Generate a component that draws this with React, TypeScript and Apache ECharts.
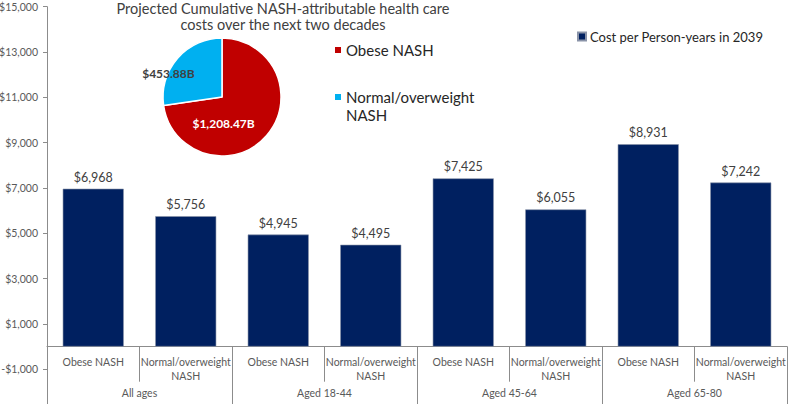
import React, { useEffect, useRef } from "react";
import * as echarts from "echarts";

const categories = [
  "Obese NASH",
  "Normal/overweight\nNASH",
  "Obese NASH",
  "Normal/overweight\nNASH",
  "Obese NASH",
  "Normal/overweight\nNASH",
  "Obese NASH",
  "Normal/overweight\nNASH",
];
const groups = ["All ages", "Aged 18-44", "Aged 45-64", "Aged 65-80"];
const costValues = [6968, 5756, 4945, 4495, 7425, 6055, 8931, 7242];
const barSeriesName = "Cost per Person-years in 2039";
const yTicks = [-1000, 1000, 3000, 5000, 7000, 9000, 11000, 13000, 15000];

const pieTitle = "Projected Cumulative NASH-attributable health care\ncosts over the next two decades";
const pieNames = ["Obese NASH", "Normal/overweight\nNASH"];
const pieValues = [1208.47, 453.88];
const pieLabels = ["$1,208.47B", "$453.88B"];

const FONT = "Lato, 'Noto Sans', sans-serif";

function fmtMoney(v: number): string {
  const s = "$" + Math.abs(v).toLocaleString("en-US");
  return v < 0 ? "-" + s : s;
}

export default function App() {
  const ref = useRef<HTMLDivElement>(null);
  useEffect(() => {
    if (!ref.current) return;
    document.body.style.margin = "0";
    const chart = echarts.init(ref.current, undefined, { renderer: "svg" });
    const zeroOffset = -22.6;
    const option: any = {
      animation: false,
      backgroundColor: "#ffffff",
      textStyle: { fontFamily: FONT },
      title: {
        text: pieTitle,
        left: 283,
        top: 0,
        textAlign: "center",
        padding: 0,
        textStyle: {
          fontFamily: FONT,
          fontSize: 14.5,
          fontWeight: "normal",
          color: "#404040",
          lineHeight: 16.5,
        },
      },
      legend: [
        {
          data: [barSeriesName],
          left: 577,
          top: 30,
          padding: 0,
          itemWidth: 8,
          itemHeight: 8,
          itemGap: 5,
          icon: "rect",
          textStyle: { fontFamily: FONT, fontSize: 13, color: "#262626", padding: [0, 0, 0, -1] },
        },
        {
          data: pieNames,
          left: 333,
          top: 41,
          padding: 0,
          orient: "vertical",
          itemWidth: 8,
          itemHeight: 8,
          itemGap: 11,
          icon: "rect",
          formatter: (name: string) => (name.indexOf("Normal") === 0 ? "\n" + name : name),
          textStyle: { fontFamily: FONT, fontSize: 15, color: "#262626", lineHeight: 18, padding: [0, 0, 0, -1] },
        },
      ],
      grid: {
        left: 47,
        right: 2,
        top: 6.7,
        bottom: 34.7,
        containLabel: false,
        outerBoundsMode: "none",
      },
      xAxis: [
        {
          type: "category",
          data: categories,
          position: "bottom",
          offset: zeroOffset,
          axisLine: { show: true, onZero: false, lineStyle: { color: "#8c8c8c", width: 1 } },
          axisTick: { show: true, length: 35, interval: 0, lineStyle: { color: "#8c8c8c" } },
          axisLabel: {
            interval: 0,
            margin: 8,
            fontFamily: FONT,
            fontSize: 10.5,
            color: "#595959",
            lineHeight: 14,
          },
        },
        {
          type: "category",
          data: groups,
          position: "bottom",
          offset: zeroOffset,
          axisLine: { show: false, onZero: false },
          axisTick: { show: true, length: 58, interval: 0, lineStyle: { color: "#8c8c8c" } },
          axisLabel: {
            interval: 0,
            margin: 41,
            fontFamily: FONT,
            fontSize: 10.5,
            color: "#595959",
          },
        },
      ],
      yAxis: {
        type: "value",
        min: -1000,
        max: 15000,
        splitLine: { show: false },
        axisLine: { show: true, onZero: false, lineStyle: { color: "#8c8c8c", width: 1 } },
        axisTick: { show: true, length: 4, customValues: yTicks, lineStyle: { color: "#8c8c8c" } },
        axisLabel: {
          customValues: yTicks,
          margin: 9,
          fontFamily: FONT,
          fontSize: 10.5,
          color: "#595959",
          formatter: (v: number) => fmtMoney(v),
        },
      },
      series: [
        {
          type: "bar",
          name: barSeriesName,
          data: costValues,
          xAxisIndex: 0,
          yAxisIndex: 0,
          barWidth: "66%",
          itemStyle: { color: "#002060", borderColor: "#8a93a8", borderWidth: 0.6 },
          label: {
            show: true,
            position: "top",
            distance: 5,
            fontFamily: FONT,
            fontSize: 12.5,
            color: "#404040",
            formatter: (p: any) => fmtMoney(p.value),
          },
        },
        {
          type: "pie",
          name: "Cumulative costs",
          center: [222, 97],
          radius: 59,
          startAngle: 90,
          clockwise: true,
          data: pieNames.map((n, i) => ({
            name: n,
            value: pieValues[i],
            itemStyle: { color: i === 0 ? "#C00000" : "#00B0F0" },
            label: {
              color: i === 0 ? "#ffffff" : "#404040",
            },
          })),
          itemStyle: { borderColor: "#ffffff", borderWidth: 1.5 },
          label: {
            show: true,
            position: "inside",
            fontFamily: FONT,
            fontSize: 12,
            fontWeight: "bold",
            formatter: (p: any) => pieLabels[p.dataIndex],
          },
          labelLine: { show: false },
          labelLayout: (p: any) => (p.dataIndex === 1 ? { dx: -29, dy: -2 } : { dx: -23, dy: 5 }),
          emphasis: { disabled: true },
        },
      ],
    };
    chart.setOption(option);
    return () => chart.dispose();
  }, []);
  return (
    <div
      ref={ref}
      style={{ position: "absolute", left: 0, top: 0, width: 789, height: 404 }}
    />
  );
}
